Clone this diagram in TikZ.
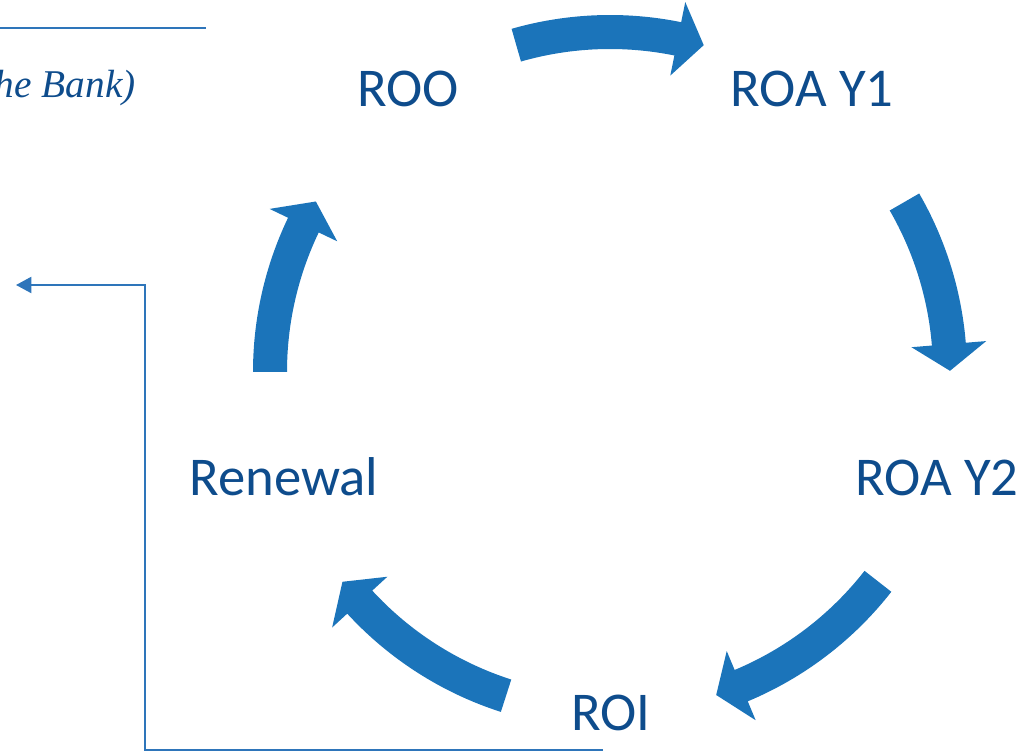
\documentclass[tikz,border=0pt]{standalone}
\usepackage{fontspec}
\setmainfont{Carlito}
\newfontfamily\bankfont{Liberation Serif}
\usetikzlibrary{arrows.meta}

\definecolor{cycleblue}{RGB}{27,116,186}
\definecolor{labelblue}{RGB}{14,76,140}
\definecolor{lineblue}{RGB}{46,117,186}

\tikzset{
  stagelabel/.style={font=\fontsize{41}{48}\selectfont, text=labelblue, inner sep=0pt, anchor=base},
  cyclearrow/.style={fill=cycleblue, draw=none},
  thinline/.style={draw=lineblue, line width=1.6pt}
}

\begin{document}
\begin{tikzpicture}[x=0.75pt, y=0.75pt]
		\useasboundingbox (0,0) rectangle (1025,-752);

		% Titolo (tagliato)
		\draw[thinline] (0,-28) -- (206,-28);
		\node[anchor=base east, inner sep=0pt, text=labelblue, font=\bankfont\itshape\fontsize{29.5}{36}\selectfont] (bank) at (136,-98) {he Bank)};

		% Fasi
		\node[stagelabel] (roo) at (408,-107) {ROO};
		\node[stagelabel] (roay1) at (812,-107) {ROA Y1};
		\node[stagelabel] (roay2) at (937,-495) {ROA Y2};
		\node[stagelabel] (roi) at (611,-730) {ROI};
		\node[stagelabel] (renewal) at (284,-495) {Renewal};

		% Frecce del ciclo
		\begin{scope}[shift={(610,-372)}]
		\coordinate (centre) at (0,0);
		\foreach \a/\t [evaluate=\t as \h using \t+4.5] in {106/74, 30/0.2, -38/-71.8, -107.8/-141.9, 180/149.9}
		\fill[cyclearrow] (\a:357) arc[start angle=\a, end angle=\h, radius=357]
			-- (\h:377.5) -- (\t:340) -- (\h:302.5) -- (\h:323)
			arc[start angle=\h, end angle=\a, radius=323] -- cycle;
		\end{scope}

		% Ritorno
		\coordinate (feedstart) at (603,-750);
		\coordinate (feedcorner) at (145,-750);
		\coordinate (feedtop) at (145,-285);
		\coordinate (feedend) at (16,-285);
		\draw[thinline, -{Triangle[length=11.5pt,width=12pt]}] (feedstart) -- (feedcorner) -- (feedtop) -- (feedend);
	\end{tikzpicture}
\end{document}
